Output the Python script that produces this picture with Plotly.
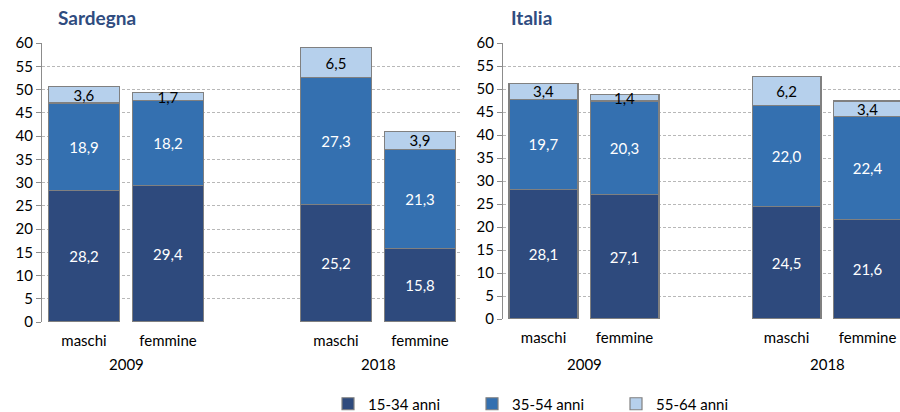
import plotly.graph_objects as go

years = ["2009", "2018"]
genders = ["maschi", "femmine"]
age_groups = ["15-34 anni", "35-54 anni", "55-64 anni"]
colors = ["#2E4A7D", "#3470B0", "#B6D0EC"]
text_colors = ["white", "white", "black"]

sardegna_15_34 = [28.2, 29.4, 25.2, 15.8]
sardegna_35_54 = [18.9, 18.2, 27.3, 21.3]
sardegna_55_64 = [3.6, 1.7, 6.5, 3.9]

italia_15_34 = [28.1, 27.1, 24.5, 21.6]
italia_35_54 = [19.7, 20.3, 22.0, 22.4]
italia_55_64 = [3.4, 1.4, 6.2, 3.4]

panels = [
    ("Sardegna", [sardegna_15_34, sardegna_35_54, sardegna_55_64]),
    ("Italia", [italia_15_34, italia_35_54, italia_55_64]),
]

# category slots: a blank slot between the two years
positions = [yi * 3 + gi for yi in range(len(years)) for gi in range(len(genders))]
tick_text = [g for _ in years for g in genders]
year_centers = [yi * 3 + (len(genders) - 1) / 2 for yi in range(len(years))]

FONT = "Lato"
W, H = 900, 412
ML, MR, MT, MB = 42, 0, 43, 90
PW, PH = W - ML - MR, H - MT - MB

def px_x(px):
    return (px - ML) / PW

def px_y(py):
    return (H - MB - py) / PH

fig = go.Figure()

for p, (name, series) in enumerate(panels):
    xa = "x" if p == 0 else "x2"
    ya = "y" if p == 0 else "y2"
    for s, vals in enumerate(series):
        fig.add_trace(go.Bar(
            x=positions, y=vals, name=age_groups[s],
            xaxis=xa, yaxis=ya,
            marker=dict(color=colors[s], line=dict(color="#808080", width=1.2)),
            width=0.85,
            text=[f"{v:.1f}".replace(".", ",") for v in vals],
            textposition="inside", insidetextanchor="middle",
            textfont=dict(color=text_colors[s], size=15, family=FONT),
            showlegend=(p == 0),
            hoverinfo="skip",
        ))

common_y = dict(range=[0, 60], dtick=5, showgrid=True, gridcolor="#B8B8B8",
                griddash="3px,2px", gridwidth=1, showline=True, linecolor="#8C8C8C",
                linewidth=1, ticks="outside", ticklen=5, tickcolor="#8C8C8C",
                tickfont=dict(size=15, family=FONT, color="black"), zeroline=False,
                fixedrange=True, automargin=False)
common_x = dict(tickmode="array", tickvals=positions, ticktext=tick_text,
                showgrid=False, zeroline=False, showline=False,
                ticks="outside", ticklen=5, tickcolor="rgba(0,0,0,0)",
                tickfont=dict(size=15, family=FONT, color="black"), automargin=False,
                fixedrange=True)

fig.update_layout(
    width=W, height=H,
    margin=dict(l=ML, r=MR, t=MT, b=MB, autoexpand=False),
    paper_bgcolor="white", plot_bgcolor="white",
    barmode="stack",
    uniformtext=dict(minsize=15, mode="show"),
    xaxis=dict(domain=[0, px_x(462)], range=[-0.5, 4.5], **common_x),
    yaxis=dict(domain=[0, 1], anchor="x", **common_y),
    xaxis2=dict(domain=[px_x(503), 1.0], range=[-0.5, 4.4], anchor="y2", **common_x),
    yaxis2=dict(domain=[px_y(319), 1], anchor="x2", **common_y),
    legend=dict(orientation="h", x=px_x(328), y=px_y(404), xanchor="left", yanchor="middle",
                entrywidth=99, entrywidthmode="pixels",
                font=dict(size=15, family=FONT, color="black"),
                itemwidth=30, traceorder="normal"),
    font=dict(family=FONT),
)

annotations = []
title_px = [56, 509]
for p, (name, _) in enumerate(panels):
    annotations.append(dict(text=f"<b>{name}</b>", xref="paper", yref="paper",
                            x=px_x(title_px[p]), y=px_y(18), xanchor="left", yanchor="middle",
                            showarrow=False, font=dict(size=19, family=FONT, color="#2F4C80")))
    xr = "x" if p == 0 else "x2"
    for yi, yr in enumerate(years):
        annotations.append(dict(text=yr, xref=xr, yref="paper", x=year_centers[yi],
                                y=px_y(364), xanchor="center", yanchor="middle",
                                showarrow=False, font=dict(size=15, family=FONT, color="black")))
fig.update_layout(annotations=annotations)

fig.write_html("out.html", config={"displayModeBar": False},
               post_script="document.body.style.margin='0';document.body.style.overflow='hidden';")
